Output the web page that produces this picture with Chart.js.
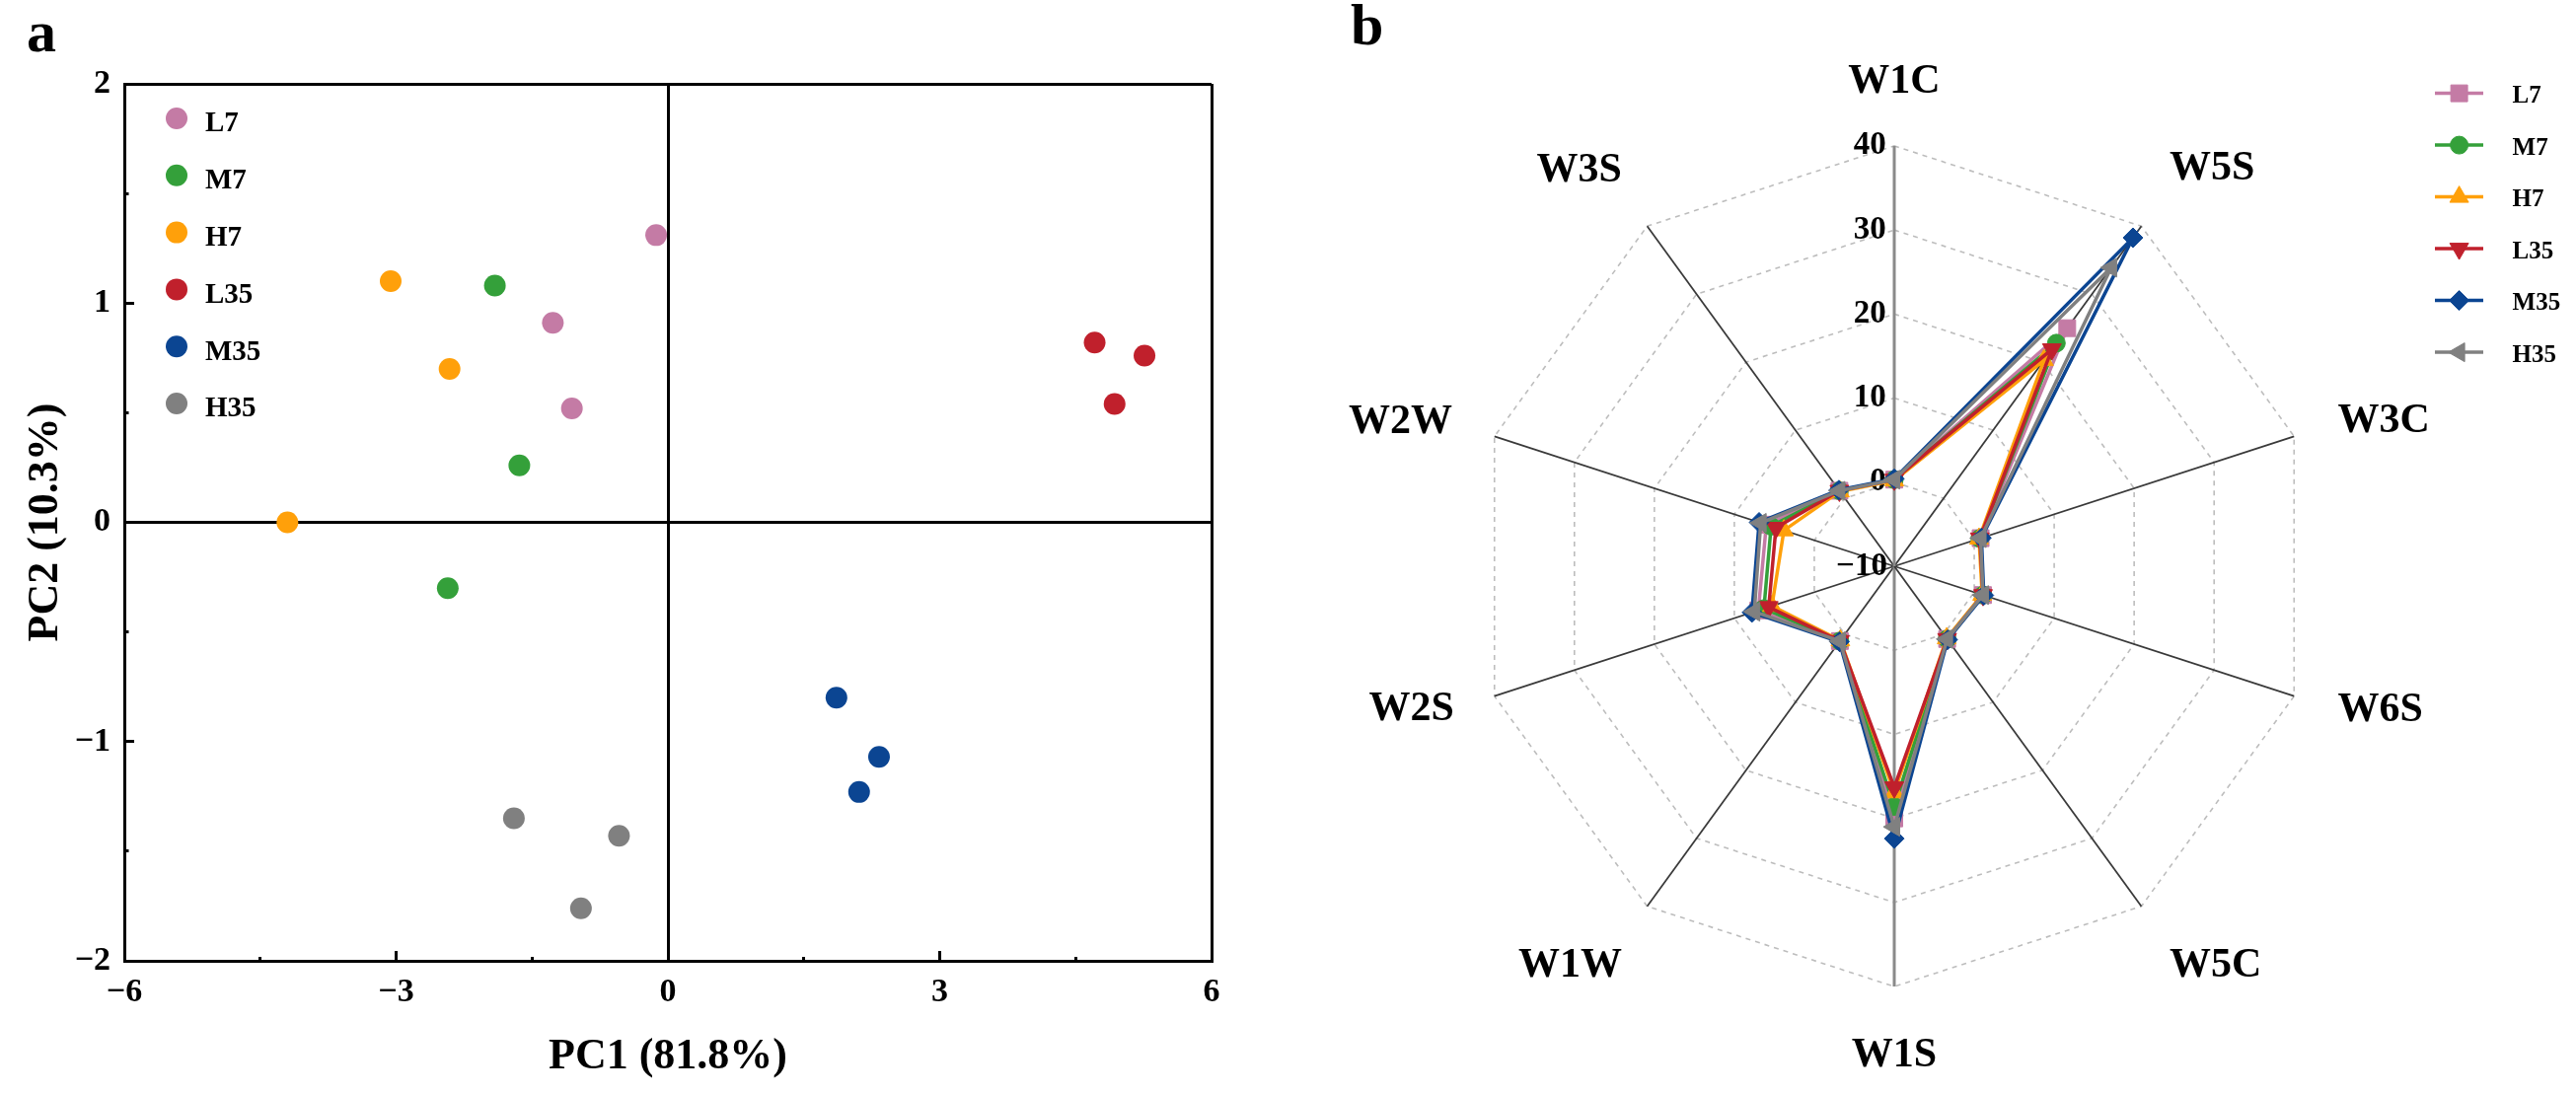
<!DOCTYPE html>
<html>
<head>
<meta charset="utf-8">
<script src="https://cdn.jsdelivr.net/npm/chart.js@4.4.1/dist/chart.umd.min.js"></script>
<style>
html,body{margin:0;padding:0;background:#fff;}
body{width:2611px;height:1109px;position:relative;overflow:hidden;font-family:"Liberation Serif","Times New Roman",serif;}
canvas{position:absolute;top:0;}
#ca{left:0;}
#cb{left:1280px;}
.pl{position:absolute;font-weight:bold;font-size:60px;line-height:60px;color:#000;}
</style>
</head>
<body>
<div class="pl" style="left:27px;top:2px;">a</div>
<div class="pl" style="left:1369px;top:-5px;">b</div>
<canvas id="ca" width="1280" height="1109"></canvas>
<canvas id="cb" width="1331" height="1109"></canvas>
<script>
// ---------- shared ----------
const seriesNames  = ['L7', 'M7', 'H7', 'L35', 'M35', 'H35'];
const seriesColors = ['#C47BA5', '#34A03A', '#FFA00A', '#C0202C', '#0B4592', '#808080'];

// ---------- panel a : PCA scores ----------
const pc1L7  = [-0.13, -1.27, -1.06];  const pc2L7  = [ 1.31,  0.91,  0.52];
const pc1M7  = [-1.91, -1.64, -2.43];  const pc2M7  = [ 1.08,  0.26, -0.30];
const pc1H7  = [-3.06, -2.41, -4.20];  const pc2H7  = [ 1.10,  0.70,  0.00];
const pc1L35 = [ 4.71,  5.26,  4.93];  const pc2L35 = [ 0.82,  0.76,  0.54];
const pc1M35 = [ 1.86,  2.33,  2.11];  const pc2M35 = [-0.80, -1.07, -1.23];
const pc1H35 = [-1.70, -0.54, -0.96];  const pc2H35 = [-1.35, -1.43, -1.76];
const pcaXTicks = [-6, -3, 0, 3, 6];
const pcaYTicks = [-2, -1, 0, 1, 2];
const pcaXTitle = 'PC1 (81.8%)';
const pcaYTitle = 'PC2 (10.3%)';

// ---------- panel b : e-nose radar ----------
const sensors  = ['W1C', 'W5S', 'W3C', 'W6S', 'W5C', 'W1S', 'W1W', 'W2S', 'W2W', 'W3S'];
const radarL7  = [0.3, 25.0, 0.8, 1.1, 0.7, 20.0, 1.0, 7.0, 6.0, 1.1];
const radarM7  = [0.3, 22.8, 0.7, 1.1, 0.7, 18.6, 1.0, 6.3, 5.4, 1.1];
const radarH7  = [0.2, 20.3, 0.6, 1.0, 0.6, 16.9, 0.9, 5.3, 3.8, 1.0];
const radarL35 = [0.3, 21.9, 0.7, 1.1, 0.7, 16.3, 1.0, 5.7, 4.8, 1.1];
const radarM35 = [0.4, 38.3, 0.9, 1.2, 0.8, 22.4, 1.1, 7.8, 6.9, 1.2];
const radarH35 = [0.3, 33.9, 0.8, 1.1, 0.7, 21.0, 1.0, 7.5, 6.7, 1.1];
const radarTicks = [-10, 0, 10, 20, 30, 40];

const SERIF = '"Liberation Serif", "Times New Roman", serif';
const fmt = v => (v < 0 ? '\u2212' + Math.abs(v) : String(v));

// ---------- chart a ----------
const pcaX = [pc1L7, pc1M7, pc1H7, pc1L35, pc1M35, pc1H35];
const pcaY = [pc2L7, pc2M7, pc2H7, pc2L35, pc2M35, pc2H35];

const legendA = {
  id: 'legendA',
  afterDraw(chart) {
    const ctx = chart.ctx;
    ctx.save();
    ctx.font = 'bold 29px ' + SERIF;
    ctx.textBaseline = 'middle';
    ctx.textAlign = 'left';
    chart.data.datasets.forEach((ds, i) => {
      const y = 120 + 57.8 * i;
      ctx.fillStyle = ds.backgroundColor;
      ctx.beginPath();
      ctx.arc(179, y, 11, 0, Math.PI * 2);
      ctx.fill();
      ctx.fillStyle = '#000';
      ctx.fillText(ds.label, 208, y + 6);
    });
    ctx.restore();
  }
};

new Chart(document.getElementById('ca'), {
  type: 'scatter',
  data: {
    datasets: seriesNames.map((n, i) => ({
      label: n,
      data: pcaX[i].map((x, j) => ({x: x, y: pcaY[i][j]})),
      backgroundColor: seriesColors[i],
      borderColor: seriesColors[i],
      borderWidth: 0,
      pointRadius: 11,
      pointHoverRadius: 11
    }))
  },
  options: {
    responsive: false,
    animation: false,
    devicePixelRatio: 1,
    layout: {padding: {left: 0, top: 85, right: 52, bottom: 11}},
    plugins: {legend: {display: false}, tooltip: {enabled: false}},
    scales: {
      x: {
        type: 'linear', position: 'bottom', min: -6, max: 6,
        afterFit: s => { s.height = 124; },
        ticks: {
          stepSize: 1.5, autoSkip: false, padding: 22, color: '#000',
          font: {family: SERIF, size: 34, weight: 'bold'},
          callback: v => (pcaXTicks.includes(v) ? fmt(v) : '')
        },
        grid: {
          drawOnChartArea: true, drawTicks: true, tickLength: -10,
          color: c => (c.tick && (c.tick.value === 0 || c.tick.value === 6)) ? '#000' : 'rgba(0,0,0,0)',
          lineWidth: 3, tickColor: '#000', tickWidth: 3,
          tickBorderDash: c => (c.tick && pcaXTicks.includes(c.tick.value)) ? [] : [6, 100]
        },
        border: {display: true, color: '#000', width: 3},
        title: {display: true, text: pcaXTitle, color: '#000', font: {family: SERIF, size: 44, weight: 'bold'}, padding: {top: 0, bottom: 0}}
      },
      y: {
        type: 'linear', position: 'left', min: -2, max: 2,
        afterFit: s => { s.width = 126; },
        ticks: {
          stepSize: 0.5, autoSkip: false, padding: 24, color: '#000',
          font: {family: SERIF, size: 34, weight: 'bold'},
          callback: v => (pcaYTicks.includes(v) ? fmt(v) : '')
        },
        grid: {
          drawOnChartArea: true, drawTicks: true, tickLength: -10,
          color: c => (c.tick && (c.tick.value === 0 || c.tick.value === 2)) ? '#000' : 'rgba(0,0,0,0)',
          lineWidth: 3, tickColor: '#000', tickWidth: 3,
          tickBorderDash: c => (c.tick && pcaYTicks.includes(c.tick.value)) ? [] : [0, 5.5, 6, 100]
        },
        border: {display: true, color: '#000', width: 3},
        title: {display: true, text: pcaYTitle, color: '#000', font: {family: SERIF, size: 44, weight: 'bold'}, padding: {top: 20, bottom: 0}}
      }
    }
  },
  plugins: [legendA]
});

// ---------- chart b ----------
const radarData = [radarL7, radarM7, radarH7, radarL35, radarM35, radarH35];
const markerStyle = ['rect', 'circle', 'triangle', 'triangle', 'rectRot', 'triangle'];
const markerRot   = [0, 0, 0, 180, 0, -90];
const markerSize  = [12, 9, 11, 11, 10, 11];
const labelPad = [21, 30, 28, 28, 30, 26, 25, 24.5, 26.5, 25];
const labelLH  = [1.2, 0.88, 0.02, 0.02, 1.0, 1.2, 1.2, 0.02, 0.02, 1.0];

const legendB = {
  id: 'legendB',
  afterDraw(chart) {
    const ctx = chart.ctx;
    ctx.save();
    chart.data.datasets.forEach((ds, i) => {
      const y = 94.6 + 52.5 * i;
      ctx.strokeStyle = ds.borderColor;
      ctx.lineWidth = 3.5;
      ctx.setLineDash([]);
      ctx.beginPath();
      ctx.moveTo(1188, y);
      ctx.lineTo(1237, y);
      ctx.stroke();
      ctx.fillStyle = ds.pointBackgroundColor;
      ctx.strokeStyle = ds.borderColor;
      ctx.lineWidth = 1;
      Chart.helpers.drawPoint(ctx, {pointStyle: ds.pointStyle, rotation: ds.pointRotation, radius: ds.pointRadius, borderWidth: 1}, 1212.6, y);
      ctx.fillStyle = '#000';
      ctx.font = 'bold 25px ' + SERIF;
      ctx.textBaseline = 'middle';
      ctx.textAlign = 'left';
      ctx.fillText(ds.label, 1266.6, y + 3);
    });
    ctx.restore();
  }
};

new Chart(document.getElementById('cb'), {
  type: 'radar',
  data: {
    labels: sensors,
    datasets: seriesNames.map((n, i) => ({
      label: n,
      data: radarData[i],
      borderColor: seriesColors[i],
      backgroundColor: seriesColors[i],
      pointBackgroundColor: seriesColors[i],
      pointBorderColor: seriesColors[i],
      pointBorderWidth: 1,
      pointStyle: markerStyle[i],
      pointRotation: markerRot[i],
      pointRadius: markerSize[i],
      pointHoverRadius: markerSize[i],
      borderWidth: 3.5,
      fill: false,
      tension: 0,
      order: 5 - i
    }))
  },
  options: {
    responsive: false,
    animation: false,
    devicePixelRatio: 1,
    layout: {padding: {left: 0, right: 51, top: 57, bottom: 11}},
    plugins: {legend: {display: false}, tooltip: {enabled: false}},
    scales: {
      r: {
        min: -10, max: 40, beginAtZero: false,
        ticks: {
          stepSize: 10, color: '#000', showLabelBackdrop: false, backdropPadding: 2,
          font: {family: SERIF, size: 33, weight: 'bold'},
          callback: v => { const s = fmt(v); return s + ' '.repeat(2 * (s.length + 1)); }
        },
        grid: {circular: false, color: '#BDBDBD', lineWidth: 1.6},
        border: {dash: [5, 5]},
        angleLines: {
          display: true,
          color: c => (c.index === 0 || c.index === 5) ? '#8A8A8A' : '#3A3A3A',
          lineWidth: c => (c.index === 0 || c.index === 5) ? 3 : 1.8
        },
        pointLabels: {
          display: true, color: '#000',
          padding: c => labelPad[c.index],
          font: c => ({family: SERIF, size: 42, weight: 'bold', lineHeight: labelLH[c.index]})
        }
      }
    }
  },
  plugins: [legendB]
});
</script>
</body>
</html>
